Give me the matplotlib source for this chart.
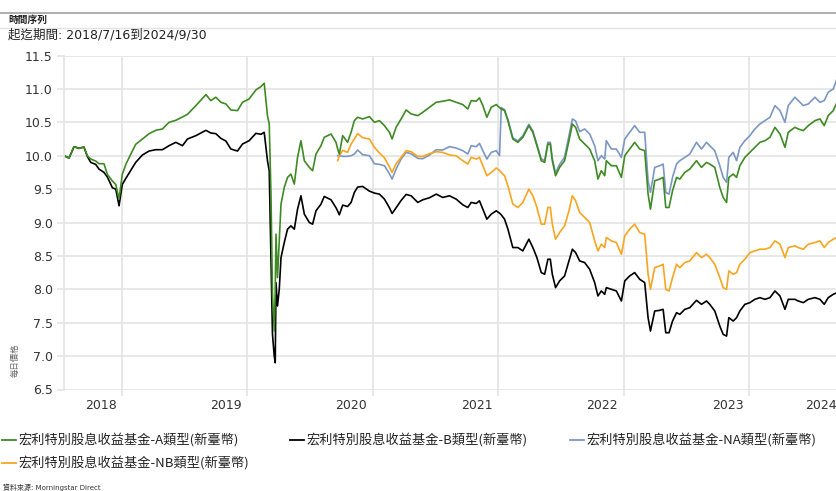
import matplotlib
matplotlib.use("Agg")
import matplotlib.pyplot as plt
from matplotlib.lines import Line2D

# 時間軸（以年份小數表示，自圖面讀出）
t = [
    2018.537, 2018.577, 2018.617, 2018.657, 2018.696, 2018.723, 2018.750, 2018.790, 2018.816, 2018.856,
    2018.883, 2018.923, 2018.950, 2018.976, 2019.002, 2019.030, 2019.069, 2019.109, 2019.162, 2019.216,
    2019.269, 2019.322, 2019.375, 2019.429, 2019.482, 2019.522, 2019.589, 2019.669, 2019.708, 2019.748,
    2019.788, 2019.828, 2019.868, 2019.921, 2019.961, 2020.014, 2020.068, 2020.108, 2020.134, 2020.160,
    2020.174, 2020.188, 2020.200, 2020.214, 2020.222, 2020.228, 2020.240, 2020.254, 2020.268, 2020.294,
    2020.320, 2020.347, 2020.374, 2020.400, 2020.427, 2020.454, 2020.494, 2020.520, 2020.547, 2020.587,
    2020.613, 2020.667, 2020.707, 2020.720, 2020.733, 2020.760, 2020.799, 2020.827, 2020.853, 2020.879,
    2020.919, 2020.973, 2021.013, 2021.053, 2021.093, 2021.133, 2021.154, 2021.186, 2021.226, 2021.266,
    2021.306, 2021.359, 2021.399, 2021.452, 2021.506, 2021.558, 2021.612, 2021.665, 2021.718, 2021.758,
    2021.785, 2021.825, 2021.851, 2021.878, 2021.910, 2021.945, 2021.985, 2022.011, 2022.025, 2022.051,
    2022.078, 2022.117, 2022.157, 2022.197, 2022.245, 2022.277, 2022.309, 2022.344, 2022.371, 2022.397,
    2022.416, 2022.432, 2022.458, 2022.490, 2022.530, 2022.565, 2022.592, 2022.618, 2022.650, 2022.690,
    2022.730, 2022.770, 2022.796, 2022.823, 2022.850, 2022.863, 2022.903, 2022.943, 2022.983, 2023.010,
    2023.049, 2023.089, 2023.129, 2023.169, 2023.196, 2023.215, 2023.249, 2023.289, 2023.316, 2023.337,
    2023.363, 2023.391, 2023.423, 2023.449, 2023.489, 2023.529, 2023.582, 2023.622, 2023.662, 2023.688,
    2023.728, 2023.768, 2023.795, 2023.822, 2023.840, 2023.875, 2023.902, 2023.928, 2023.968, 2024.008,
    2024.048, 2024.088, 2024.128, 2024.168, 2024.208, 2024.248, 2024.288, 2024.314, 2024.367, 2024.394,
    2024.434, 2024.474, 2024.527, 2024.567, 2024.601, 2024.633, 2024.673, 2024.703,
]

fund_a = [
    10.0, 9.965, 10.135, 10.11, 10.13, 10.0, 9.95, 9.92, 9.88, 9.88,
    9.72, 9.62, 9.57, 9.35, 9.72, 9.87, 10.02, 10.17, 10.25, 10.33,
    10.38, 10.40, 10.50, 10.53, 10.58, 10.62, 10.75, 10.915, 10.825, 10.875,
    10.8, 10.775, 10.685, 10.675, 10.8, 10.85, 10.985, 11.035, 11.085, 10.6,
    10.475, 9.425, 7.925, 7.375, 8.0, 8.825, 8.175, 8.725, 9.275, 9.525,
    9.675, 9.725, 9.575, 9.975, 10.225, 9.925, 9.825, 9.775, 10.025, 10.15,
    10.275, 10.325, 10.2, 10.1, 10.025, 10.3, 10.2, 10.35, 10.525, 10.575,
    10.55, 10.585, 10.5, 10.525, 10.45, 10.35, 10.25, 10.425, 10.55, 10.685,
    10.625, 10.6, 10.65, 10.725, 10.8, 10.815, 10.835, 10.8, 10.765, 10.7,
    10.825, 10.815, 10.865, 10.75, 10.575, 10.725, 10.765, 10.72, 10.7, 10.675,
    10.525, 10.25, 10.2, 10.275, 10.45, 10.35, 10.15, 9.925, 9.9, 10.175,
    10.175, 9.925, 9.7, 9.825, 9.925, 10.225, 10.475, 10.425, 10.25, 10.175,
    10.1, 9.925, 9.65, 9.775, 9.7, 9.925, 9.85, 9.85, 9.675, 10.0,
    10.1, 10.2, 10.1, 10.075, 9.425, 9.2, 9.625, 9.65, 9.675, 9.225,
    9.225, 9.475, 9.675, 9.65, 9.75, 9.8, 9.925, 9.825, 9.9, 9.875,
    9.825, 9.525, 9.375, 9.3, 9.675, 9.725, 9.675, 9.85, 9.975, 10.05,
    10.125, 10.2, 10.225, 10.275, 10.425, 10.325, 10.125, 10.35, 10.425, 10.4,
    10.375, 10.45, 10.525, 10.55, 10.45, 10.6, 10.675, 10.8,
]

fund_b = [
    10.0, 9.965, 10.135, 10.11, 10.13, 9.99, 9.9, 9.87, 9.8, 9.75,
    9.68, 9.52, 9.5, 9.25, 9.57, 9.66, 9.78, 9.9, 10.01, 10.07,
    10.09, 10.09, 10.15, 10.2, 10.15, 10.25, 10.3, 10.38, 10.34, 10.33,
    10.26, 10.22, 10.1, 10.07, 10.175, 10.225, 10.335, 10.32, 10.35, 9.925,
    9.775, 8.425, 7.325, 7.0, 6.9, 8.1, 7.75, 8.0, 8.475, 8.7,
    8.9, 8.95, 8.9, 9.2, 9.4, 9.125, 9.0, 8.975, 9.175, 9.275,
    9.39, 9.34, 9.22, 9.17, 9.115, 9.26, 9.24, 9.3, 9.45, 9.53,
    9.54, 9.47, 9.44, 9.425, 9.35, 9.22, 9.135, 9.22, 9.33, 9.42,
    9.4, 9.3, 9.34, 9.37, 9.425, 9.375, 9.4, 9.35, 9.265, 9.225,
    9.3, 9.285, 9.325, 9.2, 9.05, 9.125, 9.175, 9.14, 9.115, 9.05,
    8.9, 8.625, 8.625, 8.575, 8.75, 8.625, 8.475, 8.25, 8.225, 8.45,
    8.45, 8.225, 8.025, 8.125, 8.2, 8.425, 8.6, 8.55, 8.425, 8.4,
    8.3, 8.1, 7.9, 7.975, 7.925, 8.025, 8.0, 7.975, 7.825, 8.125,
    8.2, 8.25, 8.15, 8.1, 7.575, 7.375, 7.675, 7.685, 7.7, 7.35,
    7.35, 7.525, 7.65, 7.625, 7.7, 7.725, 7.835, 7.775, 7.825, 7.775,
    7.675, 7.45, 7.325, 7.3, 7.575, 7.525, 7.575, 7.675, 7.775, 7.8,
    7.85, 7.875, 7.85, 7.875, 7.975, 7.9, 7.7, 7.85, 7.85, 7.825,
    7.8, 7.85, 7.875, 7.85, 7.775, 7.875, 7.925, 7.95,
]

# NA / NB 類型自 2020.720 起才有資料（對齊 t 的尾端）
fund_na = [
    10.0, 10.0, 9.99, 9.99, 10.0, 10.025, 10.085,
    10.015, 10.0, 9.88, 9.87, 9.85, 9.73, 9.65, 9.8, 9.95, 10.05,
    10.03, 9.96, 9.955, 10.01, 10.09, 10.085, 10.135, 10.115, 10.075, 10.025,
    10.15, 10.135, 10.185, 10.075, 9.95, 10.05, 10.075, 10.0, 10.72, 10.69,
    10.54, 10.27, 10.22, 10.3, 10.47, 10.37, 10.17, 9.95, 9.93, 10.2,
    10.2, 9.96, 9.74, 9.87, 9.98, 10.3, 10.55, 10.52, 10.36, 10.4,
    10.325, 10.15, 9.925, 10.0, 9.95, 10.225, 10.1, 10.1, 9.975, 10.25,
    10.35, 10.45, 10.35, 10.35, 9.625, 9.45, 9.825, 9.85, 9.875, 9.45,
    9.425, 9.675, 9.875, 9.925, 9.975, 10.025, 10.2, 10.1, 10.2, 10.15,
    10.075, 9.85, 9.675, 9.6, 9.975, 10.05, 9.925, 10.125, 10.225, 10.3,
    10.4, 10.475, 10.525, 10.575, 10.75, 10.675, 10.5, 10.75, 10.875, 10.825,
    10.75, 10.775, 10.875, 10.8, 10.825, 10.95, 11.0, 11.15,
]

fund_nb = [
    9.925, 10.0, 10.08, 10.05, 10.175, 10.25, 10.33,
    10.27, 10.25, 10.125, 10.04, 9.97, 9.83, 9.75, 9.88, 9.975, 10.075,
    10.06, 9.99, 9.99, 10.03, 10.06, 10.05, 10.01, 10.0, 9.925, 9.875,
    9.975, 9.95, 9.975, 9.85, 9.7, 9.75, 9.815, 9.78, 9.75, 9.7,
    9.55, 9.275, 9.225, 9.3, 9.5, 9.4, 9.225, 8.975, 8.975, 9.225,
    9.225, 8.975, 8.75, 8.85, 8.95, 9.175, 9.4, 9.325, 9.15, 9.075,
    9.0, 8.725, 8.575, 8.675, 8.625, 8.775, 8.725, 8.7, 8.525, 8.8,
    8.9, 8.975, 8.85, 8.825, 8.225, 8.0, 8.325, 8.35, 8.375, 8.0,
    7.975, 8.175, 8.375, 8.325, 8.4, 8.425, 8.55, 8.475, 8.525, 8.475,
    8.375, 8.175, 8.025, 8.0, 8.275, 8.225, 8.25, 8.375, 8.45, 8.55,
    8.575, 8.6, 8.6, 8.625, 8.725, 8.675, 8.475, 8.625, 8.65, 8.625,
    8.6, 8.675, 8.7, 8.725, 8.625, 8.7, 8.75, 8.775,
]

series_names = [
    "宏利特別股息收益基金-A類型(新臺幣)",
    "宏利特別股息收益基金-B類型(新臺幣)",
    "宏利特別股息收益基金-NA類型(新臺幣)",
    "宏利特別股息收益基金-NB類型(新臺幣)",
]
series_colors = ["#3f8a24", "#000000", "#7b97c3", "#f8a51f"]

year_labels = ["2018", "2019", "2020", "2021", "2022", "2023", "2024"]
y_ticks = [6.5, 7.0, 7.5, 8.0, 8.5, 9.0, 9.5, 10.0, 10.5, 11.0, 11.5]
t_start, t_end = 2018.537, 2024.746

plt.rcParams['font.family'] = ['DejaVu Sans', 'Noto Sans CJK TC']
CJK = ['Noto Sans CJK TC', 'DejaVu Sans']
GRID = "#e4e4e4"

W, H = 837, 491
fig = plt.figure(figsize=(W / 100, H / 100), dpi=100)


def fx(x):
    return x / W


def fy(y):
    return 1 - y / H


# 標題區
fig.add_artist(Line2D([0, 1], [fy(13), fy(13)], color="#a8a8a8", lw=1.3))
fig.add_artist(Line2D([0, 1], [fy(28), fy(28)], color="#e2e2e2", lw=1.0))
fig.text(fx(8), fy(20), "時間序列", family=CJK, fontsize=7, fontweight="bold",
         color="#222222", va="center")
fig.text(fx(8), fy(35), "起迄期間: 2018/7/16到2024/9/30", fontsize=9,
         color="#222222", va="center")

ax = fig.add_axes([fx(64), 1 - 389.5 / H, (842.4 - 64) / W, 334 / H])

n = len(t)
ax.plot(t[n - len(fund_na):], fund_na, color=series_colors[2], lw=1.2)
ax.plot(t[n - len(fund_nb):], fund_nb, color=series_colors[3], lw=1.2)
ax.plot(t, fund_b, color=series_colors[1], lw=1.2)
ax.plot(t, fund_a, color=series_colors[0], lw=1.2)

ax.set_xlim(t_start, t_end)
ax.set_ylim(6.5, 11.5)
ax.set_yticks(y_ticks)
ax.set_yticklabels([f"{v:.1f}" for v in y_ticks])
ax.set_xticks([int(y) + 1 for y in year_labels[:-1]])
ax.set_xticklabels([])
ax.grid(True, color=GRID, lw=1.2)
ax.set_axisbelow(True)
for side in ["top", "right", "bottom"]:
    ax.spines[side].set_visible(False)
ax.spines["left"].set_color(GRID)
ax.spines["left"].set_linewidth(1.2)
ax.tick_params(axis="y", length=5, width=1.2, color=GRID, pad=3,
               labelsize=9, labelcolor="#333333")
ax.tick_params(axis="x", length=4, width=1.2, color=GRID)

# 年份標籤靠右對齊在年底的格線（最後一年靠右邊界）
for lab in year_labels:
    pos = min(int(lab) + 1, t_end)
    ax.annotate(lab, xy=(pos, 0), xycoords=("data", "axes fraction"),
                xytext=(-4, -7), textcoords="offset points",
                ha="right", va="top", fontsize=9, color="#333333",
                annotation_clip=False)

fig.text(fx(15), fy(360), "每日價格", family=CJK, fontsize=6, rotation=90,
         color="#666666", ha="center", va="center")

# 圖例
legend_pos = [(2, 440), (290, 440), (570, 440), (2, 463)]
for (lx, ly), name, col in zip(legend_pos, series_names, series_colors):
    fig.add_artist(Line2D([fx(lx), fx(lx + 14)], [fy(ly), fy(ly)], color=col, lw=1.3))
    fig.text(fx(lx + 16), fy(ly), name, family=CJK, fontsize=9.5,
             color="#222222", va="center")

fig.text(fx(3), fy(487), "資料來源: Morningstar Direct", fontsize=5,
         color="#333333", va="center")

fig.savefig("out.png", dpi=100)
